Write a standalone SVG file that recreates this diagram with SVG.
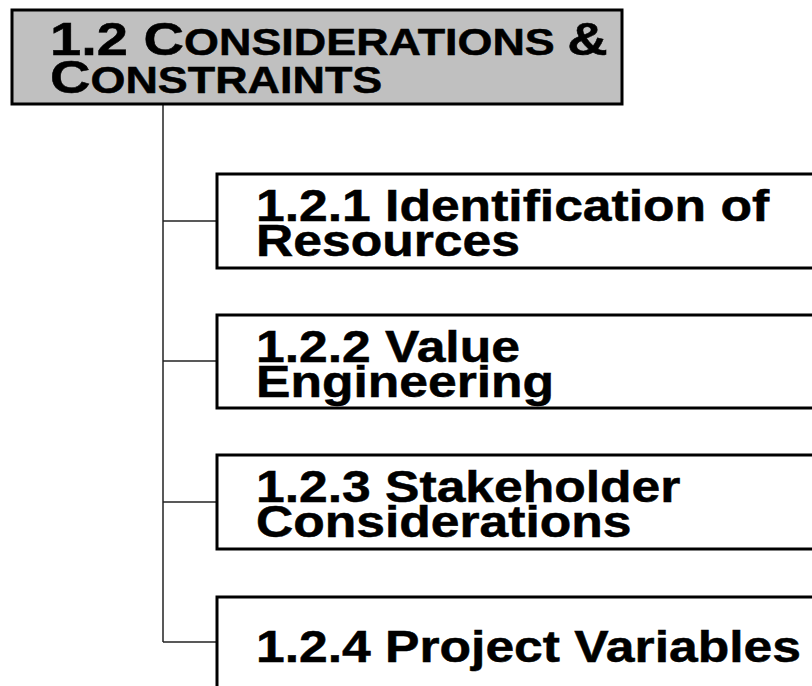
<svg xmlns="http://www.w3.org/2000/svg" width="812" height="686" viewBox="0 0 812 686">
  <style>
    .box { fill: #ffffff; stroke: #000000; stroke-width: 3; }
    .root { fill: #c0c0c0; stroke: #000000; stroke-width: 3; }
    .wire { fill: none; stroke: #222222; stroke-width: 1.5; }
    .lbl { font-family: "Liberation Sans", Arial, sans-serif; font-weight: bold; font-size: 44px; fill: #000000; stroke: #000000; stroke-width: 0.5; }
    .ttl { font-family: "Liberation Sans", Arial, sans-serif; font-weight: bold; font-size: 46px; fill: #000000; stroke: #000000; stroke-width: 0.5; }
    .sc { font-size: 36.8px; }
  </style>
  <rect width="812" height="686" fill="#ffffff"/>

  <g id="connectors">
    <path class="wire" d="M163 104 V642"/>
    <path class="wire" d="M163 221 H217"/>
    <path class="wire" d="M163 361 H217"/>
    <path class="wire" d="M163 502 H217"/>
    <path class="wire" d="M163 642 H217"/>
  </g>

  <g id="n1_2">
    <rect class="root" x="12" y="10" width="610" height="94"/>
    <g transform="translate(50 0) scale(1.22 1)">
      <text class="ttl" x="0" y="55">1.2 C<tspan class="sc">ONSIDERATIONS </tspan>&amp;</text>
      <text class="ttl" x="0" y="93">C<tspan class="sc">ONSTRAINTS</tspan></text>
    </g>
  </g>

  <g id="n1_2_1">
    <rect class="box" x="217" y="174" width="620" height="94"/>
    <g transform="translate(256 0) scale(1.173 1)">
      <text class="lbl" x="0" y="221">1.2.1 Identification of</text>
      <text class="lbl" x="0" y="256">Resources</text>
    </g>
  </g>

  <g id="n1_2_2">
    <rect class="box" x="217" y="315" width="620" height="93"/>
    <g transform="translate(256 0) scale(1.173 1)">
      <text class="lbl" x="0" y="362">1.2.2 Value</text>
      <text class="lbl" x="0" y="397">Engineering</text>
    </g>
  </g>

  <g id="n1_2_3">
    <rect class="box" x="217" y="455" width="620" height="94"/>
    <g transform="translate(256 0) scale(1.173 1)">
      <text class="lbl" x="0" y="502">1.2.3 Stakeholder</text>
      <text class="lbl" x="0" y="537">Considerations</text>
    </g>
  </g>

  <g id="n1_2_4">
    <rect class="box" x="217" y="597" width="620" height="120"/>
    <g transform="translate(256 0) scale(1.173 1)">
      <text class="lbl" x="0" y="662">1.2.4 Project Variables</text>
    </g>
  </g>
</svg>
